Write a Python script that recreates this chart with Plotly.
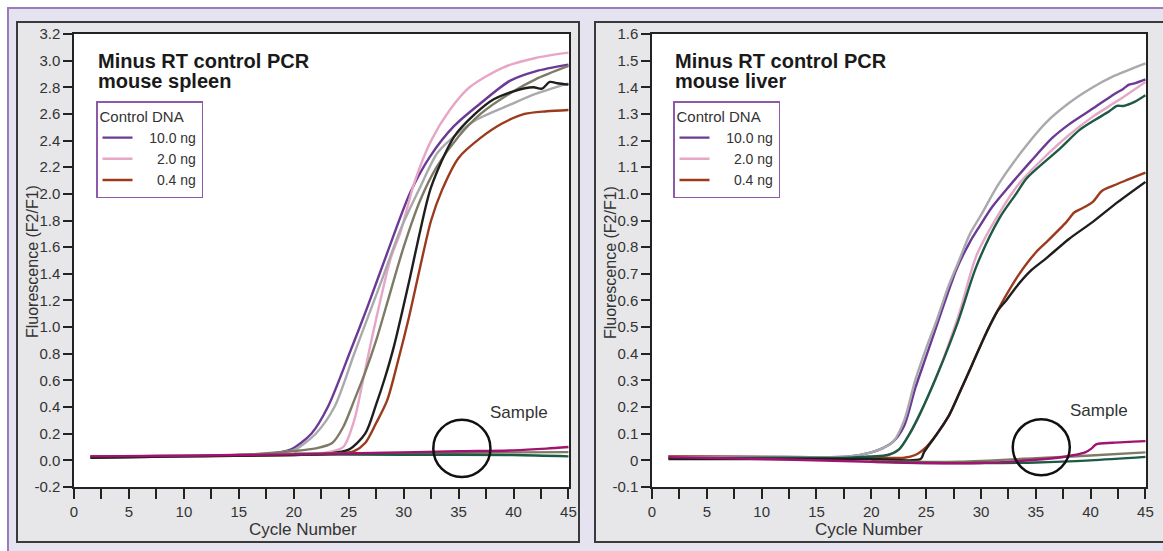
import plotly.graph_objects as go

W, H = 1163, 551
FONT = "Liberation Sans, Arial, sans-serif"

# ---------------- DATA: mouse spleen (left panel) ----------------
spleen_purple_c = [1.5, 5, 10, 15, 18, 19.7, 21.6, 23.1, 25.2, 26.7, 28.3, 30.6, 32.4, 34.6, 37, 39.7, 42, 45]
spleen_purple_v = [0.03, 0.03, 0.035, 0.04, 0.05, 0.08, 0.2, 0.4, 0.83, 1.15, 1.51, 2.01, 2.28, 2.51, 2.68, 2.85, 2.92, 2.97]
spleen_gray_c = [1.5, 10, 15, 19, 20.1, 22, 23.7, 25.5, 26.5, 28, 29.7, 31.5, 33.1, 35, 36.7, 39.7, 42, 45]
spleen_gray_v = [0.02, 0.03, 0.04, 0.06, 0.08, 0.2, 0.4, 0.8, 1.02, 1.35, 1.73, 2.05, 2.31, 2.46, 2.56, 2.67, 2.75, 2.83]
spleen_olive_c = [1.5, 10, 15, 20, 22, 23.5, 24.5, 25.5, 26.5, 27.5, 28.5, 30, 31.5, 33, 35, 37, 40, 42, 45]
spleen_olive_v = [0.02, 0.03, 0.04, 0.07, 0.09, 0.13, 0.25, 0.45, 0.66, 0.9, 1.18, 1.6, 1.95, 2.2, 2.43, 2.6, 2.77, 2.86, 2.96]
spleen_pink_c = [1.5, 10, 20, 23, 24.5, 25.5, 26.3, 27.2, 28.8, 29.7, 31, 32.5, 34.2, 36, 39.1, 42, 45]
spleen_pink_v = [0.03, 0.035, 0.05, 0.06, 0.1, 0.3, 0.6, 0.95, 1.51, 1.71, 2.09, 2.4, 2.63, 2.8, 2.95, 3.02, 3.06]
spleen_black_c = [1.5, 10, 20, 23, 25, 26.5, 27.5, 28.3, 29.1, 30.6, 31.5, 32.5, 34.6, 36.5, 38.2, 40, 41.8, 42.6, 43.3, 44, 45]
spleen_black_v = [0.02, 0.03, 0.04, 0.05, 0.08, 0.2, 0.42, 0.62, 0.85, 1.38, 1.72, 2.05, 2.43, 2.6, 2.71, 2.77, 2.8, 2.79, 2.84, 2.83, 2.82]
spleen_brown_c = [1.5, 10, 20, 24, 25.5, 26.5, 27.5, 28.5, 29.5, 30.5, 31.5, 32.5, 33.5, 35, 37, 39, 41, 43, 45]
spleen_brown_v = [0.03, 0.03, 0.04, 0.05, 0.07, 0.13, 0.28, 0.45, 0.75, 1.08, 1.45, 1.8, 2.03, 2.27, 2.42, 2.53, 2.6, 2.62, 2.63]
spleen_smag_c = [1.5, 10, 20, 30, 35, 40, 43, 45]
spleen_smag_v = [0.03, 0.035, 0.045, 0.06, 0.068, 0.075, 0.088, 0.1]
spleen_sgreen_c = [20, 30, 40, 45]
spleen_sgreen_v = [0.045, 0.042, 0.04, 0.03]
spleen_solive_c = [20, 30, 40, 45]
spleen_solive_v = [0.05, 0.055, 0.06, 0.062]

# ---------------- DATA: mouse liver (right panel) ----------------
liver_gray_c = [1.5, 10, 18, 20, 21, 22, 23, 24, 25, 26, 27, 28, 29, 30, 31.5, 33, 36, 38, 40.2, 42, 45]
liver_gray_v = [0.012, 0.012, 0.015, 0.03, 0.045, 0.07, 0.15, 0.3, 0.42, 0.53, 0.65, 0.75, 0.85, 0.92, 1.03, 1.12, 1.27, 1.34, 1.4, 1.44, 1.49]
liver_purple_c = [1.5, 10, 18, 20, 21, 22, 23, 24, 25, 26, 27, 27.8, 29, 29.9, 31, 32.6, 34.5, 36.5, 38, 40.2, 42, 43, 43.5, 44, 45]
liver_purple_v = [0.015, 0.013, 0.015, 0.03, 0.045, 0.07, 0.13, 0.27, 0.39, 0.51, 0.63, 0.72, 0.82, 0.88, 0.95, 1.03, 1.12, 1.21, 1.26, 1.32, 1.37, 1.395, 1.41, 1.415, 1.43]
liver_pink_c = [1.5, 10, 21, 22.5, 23.5, 24.5, 26, 28, 29.6, 31.7, 33.5, 35.6, 38, 40.2, 42.5, 45]
liver_pink_v = [0.015, 0.012, 0.015, 0.04, 0.1, 0.18, 0.32, 0.55, 0.77, 0.93, 1.04, 1.13, 1.22, 1.29, 1.35, 1.42]
liver_green_c = [1.5, 10, 18, 20, 21.5, 22.5, 23.5, 24.5, 26, 27.9, 29.6, 31.7, 33.2, 34.2, 37.2, 39, 40.5, 41.7, 42.4, 43, 44, 45]
liver_green_v = [0.008, 0.01, 0.01, 0.015, 0.02, 0.04, 0.1, 0.18, 0.32, 0.52, 0.73, 0.91, 1.0, 1.06, 1.17, 1.24, 1.28, 1.31, 1.33, 1.33, 1.345, 1.37]
liver_brown_c = [1.5, 10, 20, 23, 24, 25, 26, 27.1, 28, 29.2, 30.5, 31.5, 32.3, 33.5, 35, 36, 37.8, 38.5, 39.2, 40.2, 41, 42, 43.5, 45]
liver_brown_v = [0.015, 0.013, 0.01, 0.01, 0.02, 0.05, 0.1, 0.17, 0.25, 0.36, 0.48, 0.56, 0.62, 0.70, 0.78, 0.82, 0.895, 0.93, 0.945, 0.97, 1.01, 1.03, 1.055, 1.08]
liver_black_c = [1.5, 10, 20, 24.5, 24.8, 26, 27.1, 28, 29.2, 30.5, 31.5, 32.3, 33.2, 34.5, 36, 38, 40.2, 42.5, 45]
liver_black_v = [0.005, 0.005, 0.005, 0.005, 0.03, 0.1, 0.17, 0.25, 0.36, 0.48, 0.56, 0.6, 0.65, 0.71, 0.76, 0.83, 0.895, 0.97, 1.045]
liver_smag_c = [1.5, 10, 20, 25, 30, 35, 37, 38.5, 39.5, 40.1, 40.5, 42, 45]
liver_smag_v = [0.012, 0.005, -0.005, -0.01, -0.01, 0.002, 0.01, 0.02, 0.03, 0.045, 0.06, 0.066, 0.072]
liver_solive_c = [20, 28, 35, 40, 45]
liver_solive_v = [-0.003, -0.005, 0.008, 0.018, 0.03]
liver_sgreen_c = [20, 25, 30, 35, 40, 45]
liver_sgreen_v = [-0.005, -0.01, -0.01, -0.008, 0.0, 0.013]

NB = "\u00a0"
legend_labels = [NB * 3 + "10.0 ng", NB * 5 + "2.0 ng", NB * 5 + "0.4 ng"]
spleen_yticks = [round(-0.2 + 0.2 * i, 1) for i in range(18)]
liver_yticks = [round(-0.1 + 0.1 * i, 1) for i in range(18)]
liver_ytext = ["-0.1", "0", "0.1", "0.2", "0.3", "0.4", "0.5", "0.6", "0.7", "0.8", "0.9",
               "1.0", "1.1", "1.2", "1.3", "1.4", "1.5", "1.6"]

C = dict(purple="#6b3a96", pink="#e6a6c6", brown="#9b3a1c", gray="#a9a9ae",
         olive="#7d7b66", black="#1e1e1e", green="#1d5a44", magenta="#a2136f")

fig = go.Figure()


def add(xs, ys, color, xa, ya, name=None, legend=None, width=2.4):
    fig.add_trace(go.Scatter(
        x=xs, y=ys, mode="lines", xaxis=xa, yaxis=ya,
        line=dict(color=color, width=width, shape="spline", smoothing=0.8),
        name=name or "", showlegend=name is not None, legend=legend, hoverinfo="skip"))


# left panel
add(spleen_purple_c, spleen_purple_v, C["purple"], "x", "y", legend_labels[0], "legend")
add(spleen_pink_c, spleen_pink_v, C["pink"], "x", "y", legend_labels[1], "legend")
add(spleen_brown_c, spleen_brown_v, C["brown"], "x", "y", legend_labels[2], "legend")
add(spleen_gray_c, spleen_gray_v, C["gray"], "x", "y")
add(spleen_olive_c, spleen_olive_v, C["olive"], "x", "y")
add(spleen_black_c, spleen_black_v, C["black"], "x", "y")
add(spleen_solive_c, spleen_solive_v, C["olive"], "x", "y")
add(spleen_sgreen_c, spleen_sgreen_v, C["green"], "x", "y")
add(spleen_smag_c, spleen_smag_v, C["magenta"], "x", "y")

# right panel
add(liver_purple_c, liver_purple_v, C["purple"], "x2", "y2", legend_labels[0], "legend2")
add(liver_pink_c, liver_pink_v, C["pink"], "x2", "y2", legend_labels[1], "legend2")
add(liver_brown_c, liver_brown_v, C["brown"], "x2", "y2", legend_labels[2], "legend2")
add(liver_gray_c, liver_gray_v, C["gray"], "x2", "y2")
add(liver_green_c, liver_green_v, C["green"], "x2", "y2")
add(liver_black_c, liver_black_v, C["black"], "x2", "y2")
add(liver_solive_c, liver_solive_v, C["olive"], "x2", "y2")
add(liver_sgreen_c, liver_sgreen_v, C["green"], "x2", "y2")
add(liver_smag_c, liver_smag_v, C["magenta"], "x2", "y2")


def px(x):
    return x / W


def py(y):
    return 1 - y / H


AX = "#222222"
TXT = "#333333"
tickfont = dict(family=FONT, size=15, color=TXT)


def xaxis(domain):
    return dict(domain=domain, range=[0, 45.05], tickmode="linear", tick0=0, dtick=5,
                ticks="outside", ticklen=10, tickwidth=1.5, tickcolor=AX,
                minor=dict(dtick=2.5, tick0=0, ticks="outside", ticklen=10, tickwidth=1.5, tickcolor=AX),
                showline=True, linecolor=AX, linewidth=1.5, mirror=True, automargin=False,
                showgrid=False, zeroline=False, tickfont=tickfont, fixedrange=True)


def yaxis(domain, rng, vals, text, anchor):
    return dict(domain=domain, range=rng, tickmode="array", tickvals=vals, ticktext=text,
                ticks="outside", ticklen=9, tickwidth=1.5, tickcolor=AX, automargin=False,
                showline=True, linecolor=AX, linewidth=1.5, mirror=True,
                showgrid=False, zeroline=False, tickfont=tickfont, anchor=anchor, fixedrange=True)


ydom = [py(487), py(34)]
fig.update_layout(
    width=W, height=H, autosize=False,
    margin=dict(l=0, r=0, t=0, b=0, pad=0, autoexpand=False),
    paper_bgcolor="white", plot_bgcolor="white",
    font=dict(family=FONT, color=TXT),
    xaxis=dict(xaxis(domain=[px(74), px(569)]), anchor="y"),
    yaxis=yaxis(ydom, [-0.2, 3.2], spleen_yticks, [f"{v:.1f}" for v in spleen_yticks], "x"),
    xaxis2=dict(xaxis(domain=[px(652), px(1146)]), anchor="y2"),
    yaxis2=yaxis(ydom, [-0.1, 1.6], liver_yticks, liver_ytext, "x2"),
)

legend_common = dict(xanchor="left", yanchor="top", bgcolor="white", bordercolor="#8d5aa9",
                     borderwidth=1.5, font=dict(family=FONT, size=14, color=TXT),
                     title=dict(text="Control DNA", font=dict(family=FONT, size=15, color=TXT)),
                     itemwidth=30, tracegroupgap=0, entrywidth=109, entrywidthmode="pixels")
fig.update_layout(legend=dict(legend_common, x=px(96), y=py(101)),
                  legend2=dict(legend_common, x=px(673), y=py(101)))

shapes = [
    dict(type="rect", xref="paper", yref="paper", x0=px(8), x1=px(1180), y0=py(8), y1=py(570),
         fillcolor="#e5e3f0", line=dict(color="#9b7bbf", width=2), layer="below"),
    dict(type="rect", xref="paper", yref="paper", x0=px(17), x1=px(579), y0=py(22), y1=py(542),
         fillcolor="#e7e7e9", line=dict(color="#3a3a3a", width=2), layer="below"),
    dict(type="rect", xref="paper", yref="paper", x0=px(595), x1=px(1180), y0=py(22), y1=py(542),
         fillcolor="#e7e7e9", line=dict(color="#3a3a3a", width=2), layer="below"),
    dict(type="rect", xref="paper", yref="paper", x0=px(74), x1=px(569), y0=py(487), y1=py(34),
         fillcolor="white", line=dict(width=0), layer="below"),
    dict(type="rect", xref="paper", yref="paper", x0=px(652), x1=px(1146), y0=py(488), y1=py(34),
         fillcolor="white", line=dict(width=0), layer="below"),
    dict(type="circle", xref="x", yref="y", x0=32.7, x1=37.9, y0=-0.125, y1=0.304,
         line=dict(color="#111", width=2.5)),
    dict(type="circle", xref="x2", yref="y2", x0=32.9, x1=38.1, y0=-0.056, y1=0.154,
         line=dict(color="#111", width=2.5)),
]
fig.update_layout(shapes=shapes)

annotations = []
for x0, t2 in [(96, "mouse spleen"), (673, "mouse liver")]:
    annotations.append(dict(xref="paper", yref="paper", x=px(x0), y=py(61), xanchor="left", yanchor="middle",
                            text="<b>Minus RT control PCR</b>", showarrow=False,
                            font=dict(family=FONT, size=20, color="#1a1a1a")))
    annotations.append(dict(xref="paper", yref="paper", x=px(x0), y=py(81), xanchor="left", yanchor="middle",
                            text=f"<b>{t2}</b>", showarrow=False,
                            font=dict(family=FONT, size=20, color="#1a1a1a")))
for xc in [303, 869]:
    annotations.append(dict(xref="paper", yref="paper", x=px(xc), y=py(529), xanchor="center", yanchor="middle",
                            text="Cycle Number", showarrow=False, font=dict(family=FONT, size=17, color=TXT)))
for xc in [32, 610]:
    annotations.append(dict(xref="paper", yref="paper", x=px(xc), y=py(262), xanchor="center", yanchor="middle",
                            text="Fluorescence (F2/F1)", textangle=-90, showarrow=False,
                            font=dict(family=FONT, size=16, color=TXT)))
annotations.append(dict(xref="x", yref="y", x=40.5, y=0.36, text="Sample", showarrow=False,
                        xanchor="center", yanchor="middle", font=dict(family=FONT, size=17, color=TXT)))
annotations.append(dict(xref="x2", yref="y2", x=40.8, y=0.187, text="Sample", showarrow=False,
                        xanchor="center", yanchor="middle", font=dict(family=FONT, size=17, color=TXT)))
fig.update_layout(annotations=annotations)

fig.write_html("out.html", config={"displayModeBar": False},
               post_script="document.body.style.margin='0px';")
